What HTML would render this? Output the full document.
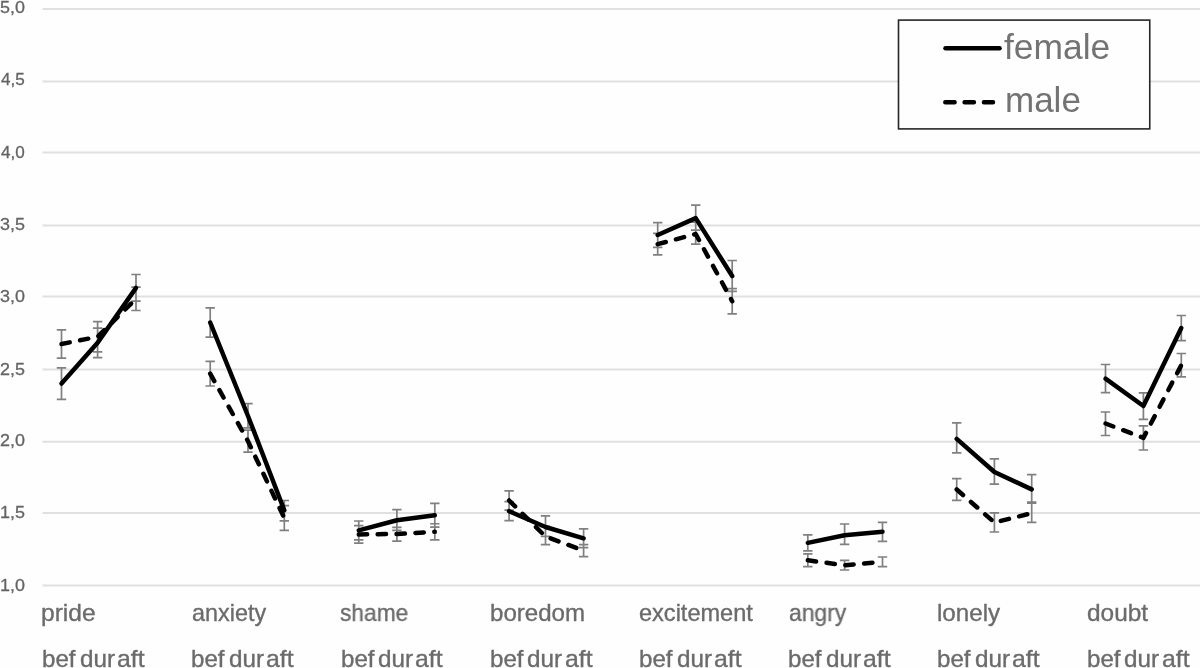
<!DOCTYPE html>
<html><head><meta charset="utf-8"><style>
html,body{margin:0;padding:0;background:#fefefe;}
body{width:1200px;height:668px;overflow:hidden;position:relative;font-family:"Liberation Sans",sans-serif;}
svg{position:absolute;left:0;top:0;}
.t{position:absolute;white-space:nowrap;line-height:1;transform-origin:0 0;will-change:transform;}
</style></head><body>
<svg width="1200" height="668" viewBox="0 0 1200 668">

<line x1="42.5" y1="9.0" x2="1200" y2="9.0" stroke="#e0e0e0" stroke-width="2"/>
<line x1="42.5" y1="81.5" x2="1200" y2="81.5" stroke="#e0e0e0" stroke-width="2"/>
<line x1="42.5" y1="152.5" x2="1200" y2="152.5" stroke="#e0e0e0" stroke-width="2"/>
<line x1="42.5" y1="225.5" x2="1200" y2="225.5" stroke="#e0e0e0" stroke-width="2"/>
<line x1="42.5" y1="296.5" x2="1200" y2="296.5" stroke="#e0e0e0" stroke-width="2"/>
<line x1="42.5" y1="369.4" x2="1200" y2="369.4" stroke="#e0e0e0" stroke-width="2"/>
<line x1="42.5" y1="441.8" x2="1200" y2="441.8" stroke="#e0e0e0" stroke-width="2"/>
<line x1="42.5" y1="512.9" x2="1200" y2="512.9" stroke="#e0e0e0" stroke-width="2"/>
<line x1="42.5" y1="585.5" x2="1200" y2="585.5" stroke="#e0e0e0" stroke-width="2"/>
<path d="M61.50 367.8V399.4M56.80 367.8H66.20M56.80 399.4H66.20M97.60 328.1V357.6M92.90 328.1H102.30M92.90 357.6H102.30M136.00 274.5V301.2M131.30 274.5H140.70M131.30 301.2H140.70M210.20 307.8V337.2M205.50 307.8H214.90M205.50 337.2H214.90M248.00 403.7V427.8M243.30 403.7H252.70M243.30 427.8H252.70M284.30 500.5V520.9M279.60 500.5H289.00M279.60 520.9H289.00M358.75 521.0V539.8M354.05 521.0H363.45M354.05 539.8H363.45M396.90 509.7V530.3M392.20 509.7H401.60M392.20 530.3H401.60M434.80 503.3V527.1M430.10 503.3H439.50M430.10 527.1H439.50M509.10 501.6V520.7M504.40 501.6H513.80M504.40 520.7H513.80M545.50 515.9V536.3M540.80 515.9H550.20M540.80 536.3H550.20M583.60 528.9V547.7M578.90 528.9H588.30M578.90 547.7H588.30M657.70 222.7V247.4M653.00 222.7H662.40M653.00 247.4H662.40M695.70 205.1V230.1M691.00 205.1H700.40M691.00 230.1H700.40M732.20 260.5V291.4M727.50 260.5H736.90M727.50 291.4H736.90M807.80 534.9V550.8M803.10 534.9H812.50M803.10 550.8H812.50M844.60 524.0V544.4M839.90 524.0H849.30M839.90 544.4H849.30M882.50 522.3V541.3M877.80 522.3H887.20M877.80 541.3H887.20M956.70 422.9V452.8M952.00 422.9H961.40M952.00 452.8H961.40M994.40 458.9V484.1M989.70 458.9H999.10M989.70 484.1H999.10M1031.70 474.7V502.0M1027.00 474.7H1036.40M1027.00 502.0H1036.40M1105.50 364.5V392.7M1100.80 364.5H1110.20M1100.80 392.7H1110.20M1143.40 392.9V419.4M1138.70 392.9H1148.10M1138.70 419.4H1148.10M1181.30 315.5V340.7M1176.60 315.5H1186.00M1176.60 340.7H1186.00M61.50 329.9V358.1M56.80 329.9H66.20M56.80 358.1H66.20M97.60 321.7V351.9M92.90 321.7H102.30M92.90 351.9H102.30M136.00 287.1V310.5M131.30 287.1H140.70M131.30 310.5H140.70M210.20 361.4V386.0M205.50 361.4H214.90M205.50 386.0H214.90M248.00 430.2V452.2M243.30 430.2H252.70M243.30 452.2H252.70M284.30 505.7V530.3M279.60 505.7H289.00M279.60 530.3H289.00M358.75 525.7V543.1M354.05 525.7H363.45M354.05 543.1H363.45M396.90 527.3V541.1M392.20 527.3H401.60M392.20 541.1H401.60M434.80 523.75V539.8M430.10 523.75H439.50M430.10 539.8H439.50M509.10 490.8V510.2M504.40 490.8H513.80M504.40 510.2H513.80M545.50 526.3V544.7M540.80 526.3H550.20M540.80 544.7H550.20M583.60 544.7V556.6M578.90 544.7H588.30M578.90 556.6H588.30M657.70 233.4V254.9M653.00 233.4H662.40M653.00 254.9H662.40M695.70 222.1V244.2M691.00 222.1H700.40M691.00 244.2H700.40M732.20 288.6V313.9M727.50 288.6H736.90M727.50 313.9H736.90M807.80 553.9V566.6M803.10 553.9H812.50M803.10 566.6H812.50M844.60 560.4V570.0M839.90 560.4H849.30M839.90 570.0H849.30M882.50 557.0V566.6M877.80 557.0H887.20M877.80 566.6H887.20M956.70 478.7V500.3M952.00 478.7H961.40M952.00 500.3H961.40M994.40 512.8V532.0M989.70 512.8H999.10M989.70 532.0H999.10M1031.70 503.2V522.4M1027.00 503.2H1036.40M1027.00 522.4H1036.40M1105.50 412.0V435.5M1100.80 412.0H1110.20M1100.80 435.5H1110.20M1143.40 425.9V450.0M1138.70 425.9H1148.10M1138.70 450.0H1148.10M1181.30 353.5V376.9M1176.60 353.5H1186.00M1176.60 376.9H1186.00" stroke="#808080" stroke-width="1.7" fill="none"/>
<polyline points="61.50,383.6 97.60,342.8 136.00,287.85" fill="none" stroke="#000" stroke-width="4.5" stroke-linecap="round" stroke-linejoin="round"/>
<polyline points="210.20,322.5 248.00,416.0 284.30,510.3" fill="none" stroke="#000" stroke-width="4.5" stroke-linecap="round" stroke-linejoin="round"/>
<polyline points="358.75,530.4 396.90,520.3 434.80,515.2" fill="none" stroke="#000" stroke-width="4.5" stroke-linecap="round" stroke-linejoin="round"/>
<polyline points="509.10,511.2 545.50,527.0 583.60,538.3" fill="none" stroke="#000" stroke-width="4.5" stroke-linecap="round" stroke-linejoin="round"/>
<polyline points="657.70,235.0 695.70,218.1 732.20,276.0" fill="none" stroke="#000" stroke-width="4.5" stroke-linecap="round" stroke-linejoin="round"/>
<polyline points="807.80,542.85 844.60,535.2 882.50,531.8" fill="none" stroke="#000" stroke-width="4.5" stroke-linecap="round" stroke-linejoin="round"/>
<polyline points="956.70,438.9 994.40,472.0 1031.70,489.4" fill="none" stroke="#000" stroke-width="4.5" stroke-linecap="round" stroke-linejoin="round"/>
<polyline points="1105.50,378.7 1143.40,406.0 1181.30,328.1" fill="none" stroke="#000" stroke-width="4.5" stroke-linecap="round" stroke-linejoin="round"/>
<polyline points="61.50,344.0 97.60,336.8 136.00,298.8" fill="none" stroke="#000" stroke-width="4.5" stroke-linecap="round" stroke-linejoin="round" stroke-dasharray="8.4 10.5"/>
<polyline points="210.20,373.7 248.00,441.2 284.30,518.0" fill="none" stroke="#000" stroke-width="4.5" stroke-linecap="round" stroke-linejoin="round" stroke-dasharray="8.4 10.5"/>
<polyline points="358.75,534.4 396.90,534.0 434.80,531.8" fill="none" stroke="#000" stroke-width="4.5" stroke-linecap="round" stroke-linejoin="round" stroke-dasharray="8.4 10.5"/>
<polyline points="509.10,500.5 545.50,536.5 583.60,550.6" fill="none" stroke="#000" stroke-width="4.5" stroke-linecap="round" stroke-linejoin="round" stroke-dasharray="8.4 10.5"/>
<polyline points="657.70,244.2 695.70,234.0 732.20,301.2" fill="none" stroke="#000" stroke-width="4.5" stroke-linecap="round" stroke-linejoin="round" stroke-dasharray="8.4 10.5"/>
<polyline points="807.80,560.3 844.60,565.2 882.50,561.8" fill="none" stroke="#000" stroke-width="4.5" stroke-linecap="round" stroke-linejoin="round" stroke-dasharray="8.4 10.5"/>
<polyline points="956.70,489.5 994.40,522.5 1031.70,513.2" fill="none" stroke="#000" stroke-width="4.5" stroke-linecap="round" stroke-linejoin="round" stroke-dasharray="8.4 10.5"/>
<polyline points="1105.50,423.5 1143.40,437.9 1181.30,365.2" fill="none" stroke="#000" stroke-width="4.5" stroke-linecap="round" stroke-linejoin="round" stroke-dasharray="8.4 10.5"/>
<rect x="898.5" y="20.1" width="251.25" height="108.8" fill="#fefefe" stroke="#262626" stroke-width="1.6"/>
<line x1="945.5" y1="48.25" x2="999.5" y2="48.25" stroke="#000" stroke-width="4.5" stroke-linecap="round"/>
<line x1="945.3" y1="102.25" x2="993" y2="102.25" stroke="#000" stroke-width="4.5" stroke-linecap="round" stroke-dasharray="9.3 10"/>
</svg>
<div class="t" style="left:-0.10px;top:-1.00px;font-size:16.3px;color:#646464;-webkit-text-stroke:0.3px #646464;transform:scaleX(1.1000);">5,0</div>
<div class="t" style="left:1.00px;top:71.40px;font-size:16.3px;color:#646464;-webkit-text-stroke:0.3px #646464;transform:scaleX(1.0500);">4,5</div>
<div class="t" style="left:1.00px;top:144.20px;font-size:16.3px;color:#646464;-webkit-text-stroke:0.3px #646464;transform:scaleX(1.0500);">4,0</div>
<div class="t" style="left:-0.10px;top:215.50px;font-size:16.3px;color:#646464;-webkit-text-stroke:0.3px #646464;transform:scaleX(1.1000);">3,5</div>
<div class="t" style="left:-0.10px;top:288.00px;font-size:16.3px;color:#646464;-webkit-text-stroke:0.3px #646464;transform:scaleX(1.1000);">3,0</div>
<div class="t" style="left:-0.10px;top:360.80px;font-size:16.3px;color:#646464;-webkit-text-stroke:0.3px #646464;transform:scaleX(1.1000);">2,5</div>
<div class="t" style="left:-0.10px;top:431.90px;font-size:16.3px;color:#646464;-webkit-text-stroke:0.3px #646464;transform:scaleX(1.1000);">2,0</div>
<div class="t" style="left:-0.10px;top:504.00px;font-size:16.3px;color:#646464;-webkit-text-stroke:0.3px #646464;transform:scaleX(1.1000);">1,5</div>
<div class="t" style="left:-0.10px;top:577.25px;font-size:16.3px;color:#646464;-webkit-text-stroke:0.3px #646464;transform:scaleX(1.1000);">1,0</div>
<div class="t" style="left:40.98px;top:602.30px;font-size:23.2px;color:#6b6b6b;-webkit-text-stroke:0.35px #6b6b6b;transform:scaleX(1.0592);">pride</div>
<div class="t" style="left:191.59px;top:602.30px;font-size:23.2px;color:#6b6b6b;-webkit-text-stroke:0.35px #6b6b6b;transform:scaleX(1.0083);">anxiety</div>
<div class="t" style="left:340.42px;top:602.30px;font-size:23.2px;color:#6b6b6b;-webkit-text-stroke:0.35px #6b6b6b;transform:scaleX(0.9794);">shame</div>
<div class="t" style="left:489.62px;top:602.30px;font-size:23.2px;color:#6b6b6b;-webkit-text-stroke:0.35px #6b6b6b;transform:scaleX(1.0386);">boredom</div>
<div class="t" style="left:639.28px;top:602.30px;font-size:23.2px;color:#6b6b6b;-webkit-text-stroke:0.35px #6b6b6b;transform:scaleX(1.0153);">excitement</div>
<div class="t" style="left:788.76px;top:602.30px;font-size:23.2px;color:#6b6b6b;-webkit-text-stroke:0.35px #6b6b6b;transform:scaleX(0.9851);">angry</div>
<div class="t" style="left:937.42px;top:602.30px;font-size:23.2px;color:#6b6b6b;-webkit-text-stroke:0.35px #6b6b6b;transform:scaleX(1.0414);">lonely</div>
<div class="t" style="left:1087.15px;top:602.30px;font-size:23.2px;color:#6b6b6b;-webkit-text-stroke:0.35px #6b6b6b;transform:scaleX(1.0526);">doubt</div>
<div class="t" style="left:1004.49px;top:28.50px;font-size:35px;color:#737373;transform:scaleX(1.0118);">female</div>
<div class="t" style="left:1004.91px;top:82.25px;font-size:35px;color:#737373;transform:scaleX(0.9944);">male</div>
<div class="t" style="left:42.02px;top:647.50px;font-size:23.2px;color:#6b6b6b;-webkit-text-stroke:0.35px #6b6b6b;transform:scaleX(1.0400);">bef</div>
<div class="t" style="left:79.75px;top:647.50px;font-size:23.2px;color:#6b6b6b;-webkit-text-stroke:0.35px #6b6b6b;transform:scaleX(1.0469);">dur</div>
<div class="t" style="left:116.93px;top:647.50px;font-size:23.2px;color:#6b6b6b;-webkit-text-stroke:0.35px #6b6b6b;transform:scaleX(1.0708);">aft</div>
<div class="t" style="left:191.26px;top:647.50px;font-size:23.2px;color:#6b6b6b;-webkit-text-stroke:0.35px #6b6b6b;transform:scaleX(1.0400);">bef</div>
<div class="t" style="left:228.99px;top:647.50px;font-size:23.2px;color:#6b6b6b;-webkit-text-stroke:0.35px #6b6b6b;transform:scaleX(1.0469);">dur</div>
<div class="t" style="left:266.17px;top:647.50px;font-size:23.2px;color:#6b6b6b;-webkit-text-stroke:0.35px #6b6b6b;transform:scaleX(1.0708);">aft</div>
<div class="t" style="left:340.50px;top:647.50px;font-size:23.2px;color:#6b6b6b;-webkit-text-stroke:0.35px #6b6b6b;transform:scaleX(1.0400);">bef</div>
<div class="t" style="left:378.23px;top:647.50px;font-size:23.2px;color:#6b6b6b;-webkit-text-stroke:0.35px #6b6b6b;transform:scaleX(1.0469);">dur</div>
<div class="t" style="left:415.41px;top:647.50px;font-size:23.2px;color:#6b6b6b;-webkit-text-stroke:0.35px #6b6b6b;transform:scaleX(1.0708);">aft</div>
<div class="t" style="left:489.74px;top:647.50px;font-size:23.2px;color:#6b6b6b;-webkit-text-stroke:0.35px #6b6b6b;transform:scaleX(1.0400);">bef</div>
<div class="t" style="left:527.47px;top:647.50px;font-size:23.2px;color:#6b6b6b;-webkit-text-stroke:0.35px #6b6b6b;transform:scaleX(1.0469);">dur</div>
<div class="t" style="left:564.65px;top:647.50px;font-size:23.2px;color:#6b6b6b;-webkit-text-stroke:0.35px #6b6b6b;transform:scaleX(1.0708);">aft</div>
<div class="t" style="left:638.98px;top:647.50px;font-size:23.2px;color:#6b6b6b;-webkit-text-stroke:0.35px #6b6b6b;transform:scaleX(1.0400);">bef</div>
<div class="t" style="left:676.71px;top:647.50px;font-size:23.2px;color:#6b6b6b;-webkit-text-stroke:0.35px #6b6b6b;transform:scaleX(1.0469);">dur</div>
<div class="t" style="left:713.89px;top:647.50px;font-size:23.2px;color:#6b6b6b;-webkit-text-stroke:0.35px #6b6b6b;transform:scaleX(1.0708);">aft</div>
<div class="t" style="left:788.22px;top:647.50px;font-size:23.2px;color:#6b6b6b;-webkit-text-stroke:0.35px #6b6b6b;transform:scaleX(1.0400);">bef</div>
<div class="t" style="left:825.95px;top:647.50px;font-size:23.2px;color:#6b6b6b;-webkit-text-stroke:0.35px #6b6b6b;transform:scaleX(1.0469);">dur</div>
<div class="t" style="left:863.13px;top:647.50px;font-size:23.2px;color:#6b6b6b;-webkit-text-stroke:0.35px #6b6b6b;transform:scaleX(1.0708);">aft</div>
<div class="t" style="left:937.46px;top:647.50px;font-size:23.2px;color:#6b6b6b;-webkit-text-stroke:0.35px #6b6b6b;transform:scaleX(1.0400);">bef</div>
<div class="t" style="left:975.19px;top:647.50px;font-size:23.2px;color:#6b6b6b;-webkit-text-stroke:0.35px #6b6b6b;transform:scaleX(1.0469);">dur</div>
<div class="t" style="left:1012.37px;top:647.50px;font-size:23.2px;color:#6b6b6b;-webkit-text-stroke:0.35px #6b6b6b;transform:scaleX(1.0708);">aft</div>
<div class="t" style="left:1086.70px;top:647.50px;font-size:23.2px;color:#6b6b6b;-webkit-text-stroke:0.35px #6b6b6b;transform:scaleX(1.0400);">bef</div>
<div class="t" style="left:1124.43px;top:647.50px;font-size:23.2px;color:#6b6b6b;-webkit-text-stroke:0.35px #6b6b6b;transform:scaleX(1.0469);">dur</div>
<div class="t" style="left:1161.61px;top:647.50px;font-size:23.2px;color:#6b6b6b;-webkit-text-stroke:0.35px #6b6b6b;transform:scaleX(1.0708);">aft</div>
</body></html>
